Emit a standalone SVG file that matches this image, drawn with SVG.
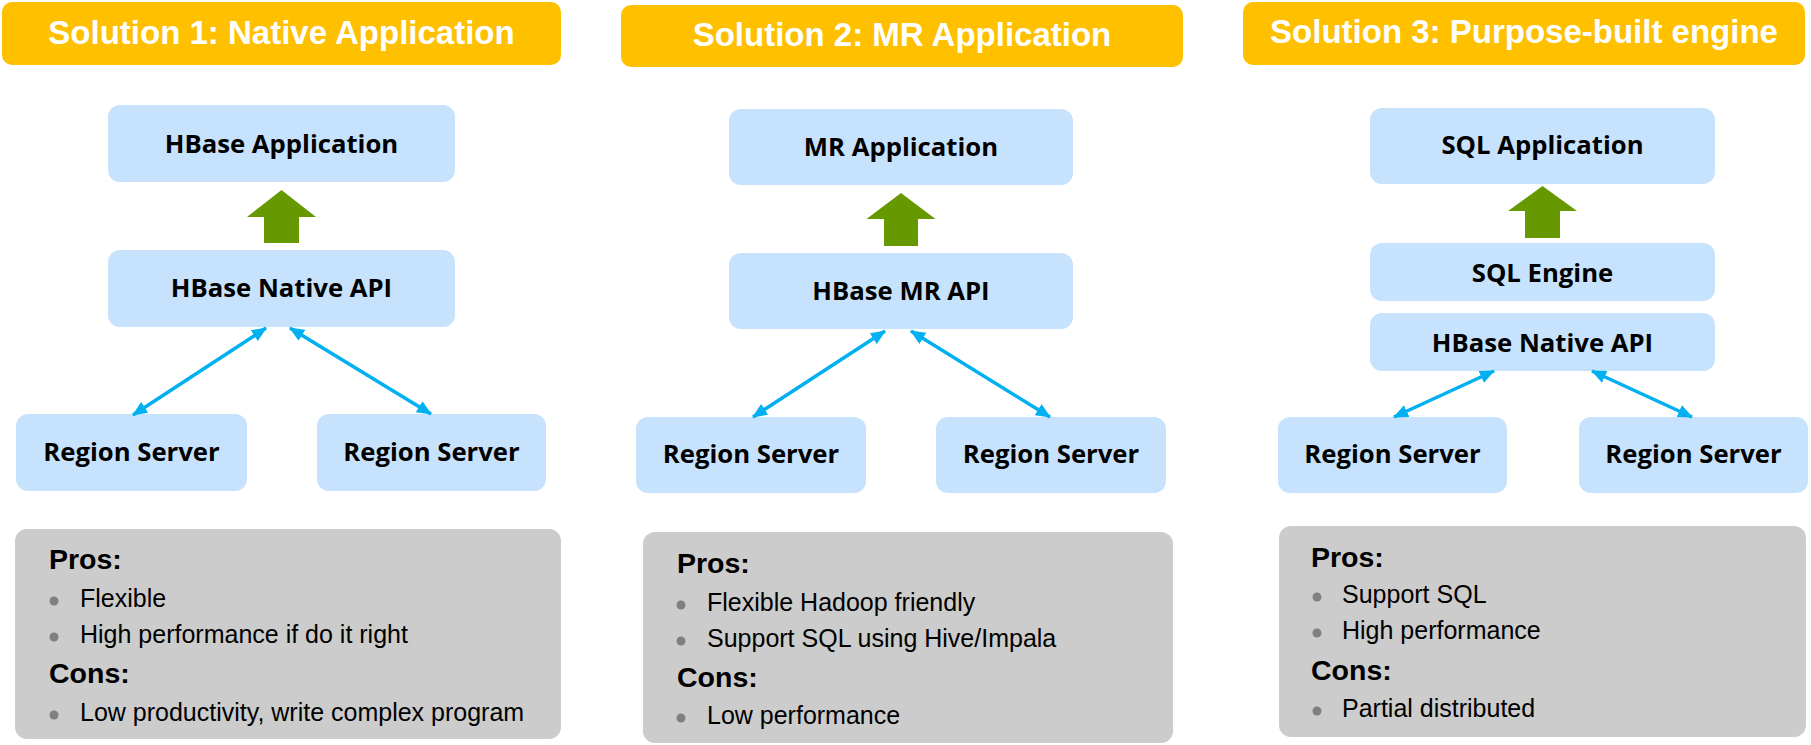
<svg xmlns="http://www.w3.org/2000/svg" width="1811" height="745" viewBox="0 0 1811 745">
<style>
.banner{fill:#ffc000}
.btxt{font-family:"Liberation Sans",Arial,sans-serif;font-weight:bold;font-size:33px;fill:#fff;text-anchor:middle}
.node{fill:#c6e2fc}
.ntxt{font-family:"Open Sans","Noto Sans",sans-serif;font-weight:bold;font-size:25.7px;fill:#000;text-anchor:middle}
.gray{fill:#cccccc}
.h{font-family:"Liberation Sans",Arial,sans-serif;font-weight:bold;font-size:28.5px;fill:#000}
.t{font-family:"Liberation Sans",Arial,sans-serif;font-size:25px;fill:#000}
.bul{fill:#808080}
.up{fill:#669900}
.link{stroke:#00b0f0;stroke-width:3.5;fill:none;marker-start:url(#ah);marker-end:url(#ah)}
</style>
<defs>
<marker id="ah" markerUnits="userSpaceOnUse" markerWidth="15" markerHeight="13" refX="14" refY="6.5" orient="auto-start-reverse">
<path d="M0,0 L15,6.5 L0,13 z" fill="#00b0f0"/>
</marker>
</defs>
<rect width="1811" height="745" fill="#fff"/>

<!-- Solution 1 -->
<g id="banner1"><rect class="banner" x="2" y="2" width="559" height="63" rx="10"/><text class="btxt" x="281.5" y="44">Solution 1: Native Application</text></g>
<g id="s1-app"><rect class="node" x="108" y="105" width="347" height="77" rx="12"/><text class="ntxt" x="281.5" y="153">HBase Application</text></g>
<g id="s1-api"><rect class="node" x="108" y="250" width="347" height="77" rx="12"/><text class="ntxt" x="281.5" y="297">HBase Native API</text></g>
<g id="s1-rs1"><rect class="node" x="16" y="414" width="231" height="77" rx="12"/><text class="ntxt" x="131.5" y="461">Region Server</text></g>
<g id="s1-rs2"><rect class="node" x="317" y="414" width="229" height="77" rx="12"/><text class="ntxt" x="431.5" y="461">Region Server</text></g>
<g id="s1-notes">
<rect class="gray" x="15" y="529" width="546" height="210" rx="12"/>
<text class="h" x="49" y="569">Pros:</text>
<circle class="bul" cx="54" cy="601" r="4.5"/><text class="t" x="80" y="607">Flexible</text>
<circle class="bul" cx="54" cy="637" r="4.5"/><text class="t" x="80" y="643">High performance if do it right</text>
<text class="h" x="49" y="683">Cons:</text>
<circle class="bul" cx="54" cy="715" r="4.5"/><text class="t" x="80" y="721">Low productivity, write complex program</text>
</g>

<!-- Solution 2 -->
<g id="banner2"><rect class="banner" x="621" y="5" width="562" height="62" rx="10"/><text class="btxt" x="902" y="46">Solution 2: MR Application</text></g>
<g id="s2-app"><rect class="node" x="729" y="109" width="344" height="76" rx="12"/><text class="ntxt" x="901" y="156">MR Application</text></g>
<g id="s2-api"><rect class="node" x="729" y="253" width="344" height="76" rx="12"/><text class="ntxt" x="901" y="300">HBase MR API</text></g>
<g id="s2-rs1"><rect class="node" x="636" y="417" width="230" height="76" rx="12"/><text class="ntxt" x="751" y="463">Region Server</text></g>
<g id="s2-rs2"><rect class="node" x="936" y="417" width="230" height="76" rx="12"/><text class="ntxt" x="1051" y="463">Region Server</text></g>
<g id="s2-notes">
<rect class="gray" x="643" y="532" width="530" height="211" rx="12"/>
<text class="h" x="677" y="573">Pros:</text>
<circle class="bul" cx="681" cy="605" r="4.5"/><text class="t" x="707" y="611">Flexible Hadoop friendly</text>
<circle class="bul" cx="681" cy="641" r="4.5"/><text class="t" x="707" y="647">Support SQL using Hive/Impala</text>
<text class="h" x="677" y="687">Cons:</text>
<circle class="bul" cx="681" cy="718" r="4.5"/><text class="t" x="707" y="724">Low performance</text>
</g>

<!-- Solution 3 -->
<g id="banner3"><rect class="banner" x="1243" y="2" width="562" height="63" rx="10"/><text class="btxt" x="1524" y="43">Solution 3: Purpose-built engine</text></g>
<g id="s3-app"><rect class="node" x="1370" y="108" width="345" height="76" rx="12"/><text class="ntxt" x="1542.5" y="154">SQL Application</text></g>
<g id="s3-eng"><rect class="node" x="1370" y="243" width="345" height="58" rx="12"/><text class="ntxt" x="1542.5" y="282">SQL Engine</text></g>
<g id="s3-api"><rect class="node" x="1370" y="313" width="345" height="58" rx="12"/><text class="ntxt" x="1542.5" y="352">HBase Native API</text></g>
<g id="s3-rs1"><rect class="node" x="1278" y="417" width="229" height="76" rx="12"/><text class="ntxt" x="1392.5" y="463">Region Server</text></g>
<g id="s3-rs2"><rect class="node" x="1579" y="417" width="229" height="76" rx="12"/><text class="ntxt" x="1693.5" y="463">Region Server</text></g>
<g id="s3-notes">
<rect class="gray" x="1279" y="526" width="527" height="211" rx="12"/>
<text class="h" x="1311" y="567">Pros:</text>
<circle class="bul" cx="1317" cy="597" r="4.5"/><text class="t" x="1342" y="603">Support SQL</text>
<circle class="bul" cx="1317" cy="633" r="4.5"/><text class="t" x="1342" y="639">High performance</text>
<text class="h" x="1311" y="680">Cons:</text>
<circle class="bul" cx="1317" cy="711" r="4.5"/><text class="t" x="1342" y="717">Partial distributed</text>
</g>

<!-- connectors -->
<g id="connectors">
<polygon class="up" points="281.5,190 316,217 299,217 299,243 264,243 264,217 247,217"/>
<polygon class="up" points="901,193 935.5,219 918,219 918,246 884,246 884,219 866.5,219"/>
<polygon class="up" points="1542.5,186 1577,211 1560,211 1560,238 1525,238 1525,211 1508,211"/>
<line class="link" x1="266" y1="328" x2="133" y2="415"/>
<line class="link" x1="290" y1="328" x2="431" y2="414"/>
<line class="link" x1="885" y1="331" x2="753" y2="417"/>
<line class="link" x1="911" y1="331" x2="1050" y2="417"/>
<line class="link" x1="1494" y1="371" x2="1394" y2="417"/>
<line class="link" x1="1592" y1="371" x2="1692" y2="417"/>
</g>
</svg>
